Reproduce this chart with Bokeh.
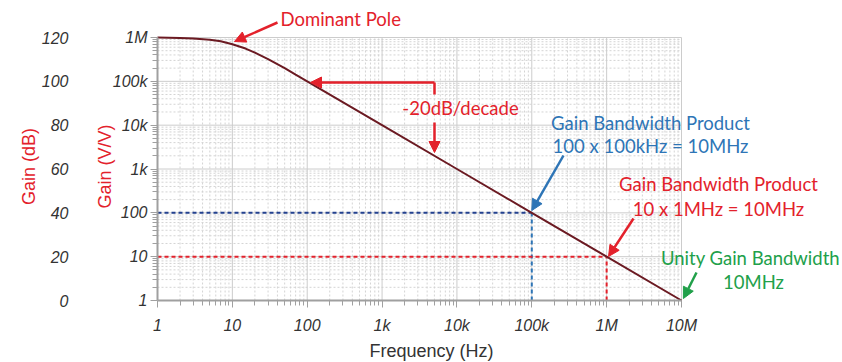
import math
from bokeh.plotting import figure
from bokeh.models import (Range1d, LinearAxis, LinearScale, FixedTicker, Label,
                          Arrow, NormalHead)
from bokeh.embed import file_html
from bokeh.resources import INLINE

# ---- data ----
freq_hz = [1, 2, 3, 5, 7, 10, 15, 20, 30, 50, 70, 100, 1e3, 1e4, 1e5, 1e6, 1e7]
gain_vv = [1e6, 0.98e6, 0.95e6, 0.89e6, 0.82e6, 0.70e6, 0.56e6, 0.45e6,
           0.32e6, 0.2e6, 0.142e6, 1e5, 1e4, 1e3, 100, 10, 1]

gbw_blue_f, gbw_blue_gain = 1e5, 100     # 100 x 100kHz
gbw_red_f, gbw_red_gain = 1e6, 10        # 10 x 1MHz
ugbw_f, ugbw_gain = 1e7, 1

x_ticks = [1, 10, 100, 1000, 10000, 100000, 1000000, 10000000]
x_tick_labels = ["1", "10", "100", "1k", "10k", "100k", "1M", "10M"]
y_ticks = [1, 10, 100, 1000, 10000, 100000, 1000000]
y_tick_labels = ["1", "10", "100", "1k", "10k", "100k", "1M"]
db_ticks = [0, 20, 40, 60, 80, 100, 120]

# ---- layout ----
W, H = 842, 362
X0_PX, XDEC = 157.0, 74.857     # canvas x of 1 Hz, px per decade
Y0_PX, YDEC = 300.0, 43.833     # canvas y of gain 1, px per decade
x_lo = 10 ** (-X0_PX / XDEC)
x_hi = 10 ** ((W - X0_PX) / XDEC)
y_lo = 10 ** (-(H - Y0_PX) / YDEC)
y_hi = 10 ** (Y0_PX / YDEC)


def px_x(px):   # canvas px -> data x
    return 10 ** ((px - X0_PX) / XDEC)


def px_y(py):   # canvas px -> data y
    return 10 ** ((Y0_PX - py) / YDEC)


RED = "#e3212b"
BLUE = "#2e75b6"
NAVY = "#22408f"
GREEN = "#21a04a"
CURVE = "#6b1a22"
FONT = "Lato"
AX_FONT = "Liberation Sans"
ANN_SIZE = "18.5px"
TITLE_SIZE = "18px"

p = figure(width=W, height=H, x_axis_type="log", y_axis_type="log",
           x_range=Range1d(x_lo, x_hi), y_range=Range1d(y_lo, y_hi),
           output_backend="svg", toolbar_location=None,
           min_border=0, min_border_left=0, min_border_right=0,
           min_border_top=0, min_border_bottom=0)
p.outline_line_color = None
p.background_fill_color = "white"
p.xgrid.visible = False
p.ygrid.visible = False

minor_x = [k * 10 ** d for d in range(0, 7) for k in range(2, 10)]
minor_y = [k * 10 ** d for d in range(0, 6) for k in range(2, 10)]

# ---- manual grid (only inside 1..10M x 1..1M) ----
p.segment(x0=minor_x, y0=[1] * len(minor_x), x1=minor_x, y1=[1e6] * len(minor_x),
          line_color="#d4d4d4", line_width=1, line_dash="2 2", level="underlay")
p.segment(x0=[1] * len(minor_y), y0=minor_y, x1=[1e7] * len(minor_y), y1=minor_y,
          line_color="#d4d4d4", line_width=1, line_dash="2 2", level="underlay")
p.segment(x0=x_ticks[1:], y0=[1] * 7, x1=x_ticks[1:], y1=[1e6] * 7,
          line_color="#cccccc", line_width=1, level="underlay")
p.segment(x0=[1] * 6, y0=y_ticks[1:], x1=[1e7] * 6, y1=y_ticks[1:],
          line_color="#cccccc", line_width=1, level="underlay")

# ---- axes ----
xa = p.xaxis[0]
ya = p.yaxis[0]
xa.fixed_location = 1
ya.fixed_location = 1
xa.bounds = (1, 1e7)
ya.bounds = (1, 1e6)
xa.ticker = FixedTicker(ticks=x_ticks, minor_ticks=minor_x)
ya.ticker = FixedTicker(ticks=y_ticks, minor_ticks=minor_y)
xa.major_label_overrides = {t: l for t, l in zip(x_ticks, x_tick_labels)}
ya.major_label_overrides = {t: l for t, l in zip(y_ticks, y_tick_labels)}

for ax in (xa, ya):
    ax.axis_line_color = "#a0a0a0"
    ax.axis_line_width = 2
    ax.major_tick_line_color = "#a0a0a0"
    ax.minor_tick_line_color = "#a0a0a0"
    ax.major_tick_in = 0
    ax.minor_tick_in = 0
    ax.major_tick_out = 7
    ax.minor_tick_out = 5
    ax.major_label_text_font = AX_FONT
    ax.major_label_text_font_style = "italic"
    ax.major_label_text_font_size = "16px"
    ax.major_label_text_color = "#333333"
xa.major_label_standoff = 9
ya.major_label_standoff = 3

# dB axis (linear, aligned with 20 dB per decade)
p.extra_y_ranges = {"db": Range1d(20 * math.log10(y_lo), 20 * math.log10(y_hi))}
p.extra_y_scales = {"db": LinearScale()}
db_axis = LinearAxis(y_range_name="db", ticker=FixedTicker(ticks=db_ticks),
                     fixed_location=px_x(90), bounds=(0, 120))
db_axis.axis_line_color = None
db_axis.major_tick_line_color = None
db_axis.minor_tick_line_color = None
db_axis.major_label_standoff = 16
db_axis.major_label_text_font = AX_FONT
db_axis.major_label_text_font_style = "italic"
db_axis.major_label_text_font_size = "16px"
db_axis.major_label_text_color = "#333333"
p.add_layout(db_axis, "left")

# axis titles
p.add_layout(Label(x=px_x(28), y=px_y(166), text="Gain (dB)", angle=90,
                   angle_units="deg", text_align="center", text_baseline="middle",
                   text_font=AX_FONT, text_font_size=TITLE_SIZE, text_color=RED))
p.add_layout(Label(x=px_x(104), y=px_y(166), text="Gain (V/V)", angle=90,
                   angle_units="deg", text_align="center", text_baseline="middle",
                   text_font=AX_FONT, text_font_size=TITLE_SIZE, text_color=RED))
p.add_layout(Label(x=px_x(431), y=px_y(350), text="Frequency (Hz)",
                   text_align="center", text_baseline="middle",
                   text_font=AX_FONT, text_font_size=TITLE_SIZE, text_color="#333333"))

# ---- dashed guide lines ----
p.line([1, gbw_blue_f], [gbw_blue_gain, gbw_blue_gain], line_color=NAVY,
       line_width=2, line_dash="4 3")
p.line([gbw_blue_f, gbw_blue_f], [1, gbw_blue_gain], line_color=BLUE,
       line_width=2, line_dash="4 3")
p.line([1, gbw_red_f], [gbw_red_gain, gbw_red_gain], line_color=RED,
       line_width=2, line_dash="4 3")
p.line([gbw_red_f, gbw_red_f], [1, gbw_red_gain], line_color=RED,
       line_width=2, line_dash="4 3")

# ---- gain curve ----
p.line(freq_hz, gain_vv, line_color=CURVE, line_width=2)


def label(x, y, text, color, align="center", size=ANN_SIZE):
    p.add_layout(Label(x=x, y=y, text=text, text_color=color,
                       text_align=align, text_baseline="middle",
                       text_font=FONT, text_font_size=size))


def arrow(x0, y0, x1, y1, color, head=True):
    end = NormalHead(size=11, fill_color=color, line_color=color) if head else None
    p.add_layout(Arrow(end=end, x_start=x0, y_start=y0, x_end=x1, y_end=y1,
                       line_color=color, line_width=2.5))


# Dominant pole
label(px_x(280), px_y(18), "Dominant Pole", RED, align="left")
arrow(px_x(277), px_y(22), px_x(234), px_y(41), RED)

# -20dB/decade
label(px_x(460), px_y(107), "-20dB/decade", RED)
arrow(px_x(434), px_y(94), px_x(434), px_y(82), RED, head=False)
arrow(px_x(434), px_y(82), px_x(310), px_y(82), RED)
arrow(px_x(434), px_y(122), px_x(434), px_y(152), RED)

# GBW blue
label(px_x(650), px_y(122), "Gain Bandwidth Product", BLUE)
label(px_x(650), px_y(145), "100 x 100kHz = 10MHz", BLUE)
arrow(px_x(563), px_y(155), gbw_blue_f, gbw_blue_gain * 1.13, BLUE)

# GBW red
label(px_x(718), px_y(183), "Gain Bandwidth Product", RED)
label(px_x(718), px_y(208), "10 x 1MHz = 10MHz", RED)
arrow(px_x(633), px_y(218), gbw_red_f * 1.06, gbw_red_gain * 1.01, RED)

# Unity gain
label(px_x(750), px_y(257), "Unity Gain Bandwidth", GREEN)
label(px_x(753), px_y(281), "10MHz", GREEN)
arrow(px_x(696), px_y(272), ugbw_f * 1.06, ugbw_gain * 1.11, GREEN)

open("out.html", "w").write(file_html(p, INLINE))
